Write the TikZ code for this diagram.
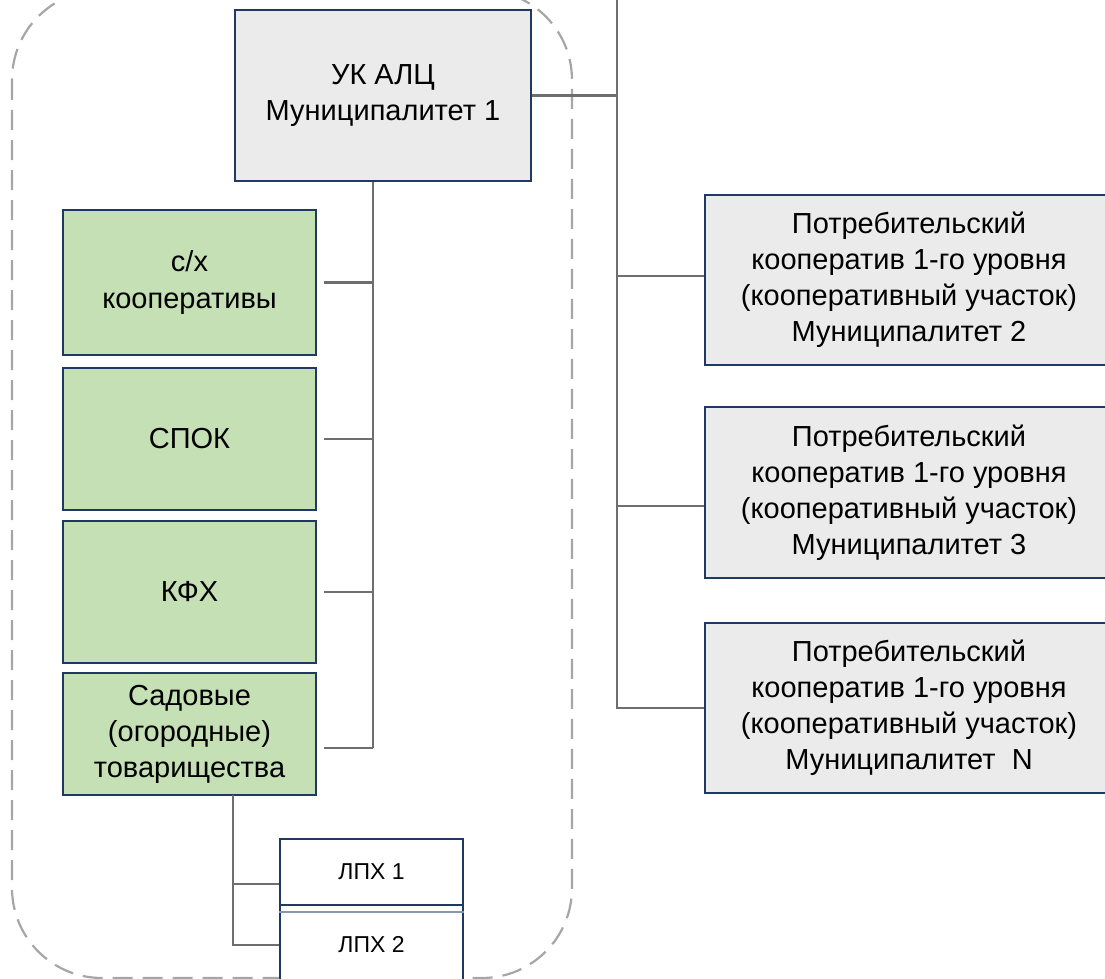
\documentclass[tikz,border=0pt]{standalone}
\usepackage{fontspec}
\setmainfont{Liberation Sans}
\usetikzlibrary{positioning}

\definecolor{boxline}{HTML}{1F3864}
\definecolor{boxgray}{HTML}{EBEBEB}
\definecolor{boxgreen}{HTML}{C5E0B4}
\definecolor{connline}{HTML}{6E6E6E}
\definecolor{dashline}{HTML}{A6A6A6}
\definecolor{sepline}{HTML}{8497B0}

\tikzset{
  orgbox/.style={rectangle, draw=boxline, line width=2pt, align=center, inner sep=0pt,
    font=\fontsize{29}{36}\selectfont},
  graybox/.style={orgbox, fill=boxgray},
  greenbox/.style={orgbox, fill=boxgreen, minimum width=253pt},
  lphbox/.style={orgbox, fill=white, minimum width=183pt, font=\fontsize{23}{28}\selectfont},
  conn/.style={draw=connline, line width=2.6pt},
}

\begin{document}
\begin{tikzpicture}[x=1pt, y=-1pt]
\useasboundingbox (0,0) rectangle (1105,979);

% dashed frame of municipality 1
\draw[dashline, line width=2.2pt, dash pattern=on 20pt off 10pt, rounded corners=90pt] (12,-10) rectangle (572,978);

\node (uk) [graybox, minimum width=296pt, minimum height=171pt] at (383,95.5) {УК АЛЦ\\Муниципалитет 1};

\node (agro) [greenbox, minimum height=145pt] at (189.5,282.5) {с/х\\кооперативы};
\node (spok) [greenbox, minimum height=142pt] at (189.5,439) {СПОК};
\node (kfh) [greenbox, minimum height=142pt] at (189.5,592) {КФХ};
\node (sad) [greenbox, minimum height=122pt] at (189.5,734) {Садовые\\(огородные)\\товарищества};

\node (lph1) [lphbox, minimum height=67pt] at (371.5,872) {ЛПХ 1};
\node (lph2) [lphbox, minimum height=80pt] at (371.5,945) {ЛПХ 2};
\draw[sepline, line width=1.8pt] ([yshift=-8pt]lph2.north west) -- ([yshift=-8pt]lph2.north east);

\node (coop1) [graybox, minimum width=408pt, minimum height=170pt] at (909,280) {Потребительский\\кооператив 1-го уровня\\(кооперативный участок)\\Муниципалитет 2};
\node (coop2) [graybox, minimum width=408pt, minimum height=171pt] at (909,492.5) {Потребительский\\кооператив 1-го уровня\\(кооперативный участок)\\Муниципалитет 3};
\node (coop3) [graybox, minimum width=408pt, minimum height=170pt] at (909,708) {Потребительский\\кооператив 1-го уровня\\(кооперативный участок)\\Муниципалитет~~N};

% left trunk
\coordinate (trunkend) at (373,748);
\draw[conn] (uk.south -| trunkend) -- (trunkend);
\draw[conn] ([xshift=7pt]agro.east) -- (agro.east -| trunkend);
\draw[conn] ([xshift=7pt]spok.east) -- (spok.east -| trunkend);
\draw[conn] ([xshift=7pt]kfh.east) -- (kfh.east -| trunkend);
\draw[conn] ([xshift=7pt, yshift=-14pt]sad.east) -- (trunkend);

% right trunk
\coordinate (toptrunk) at (617,0);
\draw[conn] (toptrunk) -- (toptrunk |- coop3.west) -- (coop3.west);
\draw[conn] (uk.east) -- (uk.east -| toptrunk);
\draw[conn] ([yshift=4pt]coop1.west) -- ([yshift=4pt]coop1.west -| toptrunk);
\draw[conn] ([yshift=-13.5pt]coop2.west) -- ([yshift=-13.5pt]coop2.west -| toptrunk);

% households
\coordinate (sadfoot) at (233,795);
\draw[conn] (sadfoot) -- (sadfoot |- lph2.west) -- (lph2.west);
\draw[conn] ([yshift=-12pt]lph1.west) -- ([yshift=-12pt]lph1.west -| sadfoot);
\end{tikzpicture}
\end{document}
